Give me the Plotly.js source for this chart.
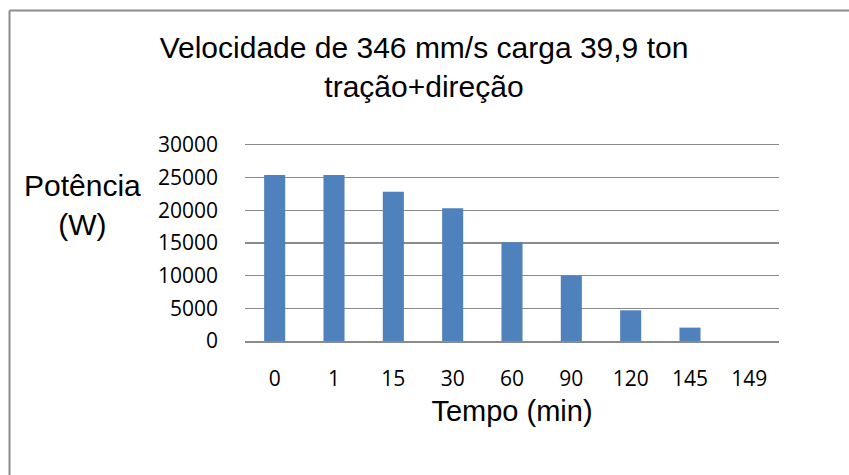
<!DOCTYPE html>
<html>
<head>
<meta charset="utf-8">
<script src="https://cdn.plot.ly/plotly-3.0.1.min.js"></script>
<style>
html, body { margin: 0; padding: 0; background: #ffffff; }
#chart { width: 849px; height: 475px; }
</style>
</head>
<body>
<div id="chart"></div>
<script>
// Data
const categories = ["0", "1", "15", "30", "60", "90", "120", "145", "149"];
const potencia = [25400, 25400, 22850, 20300, 15100, 10000, 4700, 2050, 0];
const yTicks = [0, 5000, 10000, 15000, 20000, 25000, 30000];

const titleText = "Velocidade de 346 mm/s carga 39,9 ton<br>tração+direção";
const yTitleText = "Potência<br>(W)";
const xTitleText = "Tempo (min)";

const gridColor = "#8a8a8a";
const borderColor = "#8c8c8c";

const trace = {
  type: "bar",
  x: categories,
  y: potencia,
  marker: { color: "#4f81bd", line: { width: 0 } },
  hoverinfo: "x+y"
};

const layout = {
  width: 849,
  height: 475,
  margin: { l: 245, r: 70, t: 145, b: 134 },
  paper_bgcolor: "#ffffff",
  plot_bgcolor: "#ffffff",
  showlegend: false,
  bargap: 0.645,
  title: {
    text: titleText,
    font: { family: "Liberation Sans, Arial, sans-serif", size: 30, color: "#000000" },
    x: 424 / 849,
    xanchor: "center",
    xref: "container",
    yref: "container",
    y: 1 - 58 / 475,
    yanchor: "top"
  },
  xaxis: {
    type: "category",
    showgrid: false,
    showline: true,
    mirror: true,
    linecolor: gridColor,
    linewidth: 1.5,
    ticks: "",
    ticklabelstandoff: 18,
    tickfont: { family: "Open Sans, sans-serif", size: 21, color: "#000000" },
    title: {
      text: xTitleText,
      font: { family: "Liberation Sans, Arial, sans-serif", size: 29, color: "#000000" },
      standoff: 10
    },
    fixedrange: true
  },
  yaxis: {
    range: [0, 30000],
    tickvals: yTicks,
    ticktext: yTicks.map(String),
    showgrid: true,
    gridcolor: gridColor,
    gridwidth: 1.5,
    zeroline: false,
    showline: false,
    ticks: "",
    ticklabelstandoff: 26,
    tickfont: { family: "Open Sans, sans-serif", size: 21, color: "#000000" },
    fixedrange: true
  },
  annotations: [{
    text: yTitleText,
    xref: "paper", yref: "paper",
    x: (82 - 245) / 534,
    y: (341 - 205) / 196,
    xanchor: "center", yanchor: "middle",
    align: "center",
    showarrow: false,
    font: { family: "Liberation Sans, Arial, sans-serif", size: 30, color: "#000000" }
  }],
  shapes: [
    { type: "line", xref: "paper", yref: "paper",
      x0: (9.5 - 245) / 534, x1: (849 - 245) / 534,
      y0: (341 - 10.5) / 196, y1: (341 - 10.5) / 196,
      line: { color: borderColor, width: 2 } },
    { type: "line", xref: "paper", yref: "paper",
      x0: (9.5 - 245) / 534, x1: (9.5 - 245) / 534,
      y0: (341 - 10.5) / 196, y1: (341 - 475) / 196,
      line: { color: borderColor, width: 2 } }
  ]
};

Plotly.newPlot("chart", [trace], layout, { displayModeBar: false, staticPlot: true });
</script>
</body>
</html>
